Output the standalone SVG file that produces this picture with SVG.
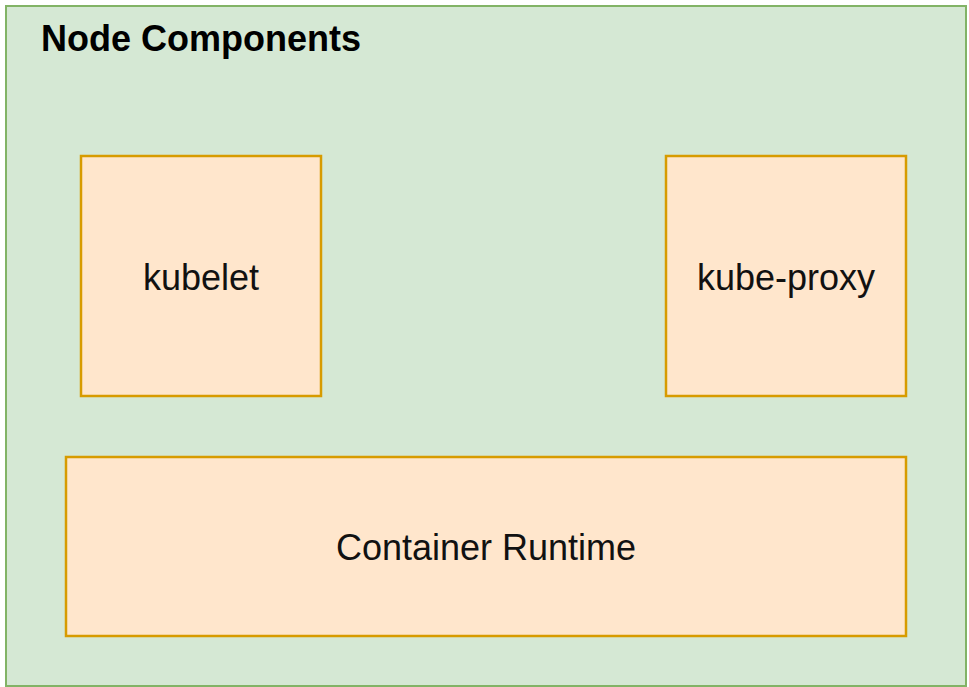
<svg xmlns="http://www.w3.org/2000/svg" width="969" height="687" viewBox="0 0 969 687">
  <style>
    .frame { fill: #d5e8d4; stroke: #82b366; stroke-width: 2; }
    .comp { fill: #ffe6cc; stroke: #d79b00; stroke-width: 2.5; }
    .title { font-family: "Liberation Sans", Arial, sans-serif; font-size: 36px; font-weight: bold; fill: #000000; }
    .label { font-family: "Liberation Sans", Arial, sans-serif; font-size: 36px; fill: #111111; text-anchor: middle; }
  </style>
  <rect width="969" height="687" fill="#ffffff"/>

  <!-- outer container -->
  <g id="node-components">
    <rect class="frame" x="6" y="6" width="960" height="680"/>
    <text class="title" x="41" y="51">Node Components</text>
  </g>

  <g id="kubelet">
    <rect class="comp" x="81" y="156" width="240" height="240"/>
    <text class="label" x="201" y="290">kubelet</text>
  </g>

  <g id="kube-proxy">
    <rect class="comp" x="666" y="156" width="240" height="240"/>
    <text class="label" x="786" y="290">kube-proxy</text>
  </g>

  <g id="container-runtime">
    <rect class="comp" x="66" y="457" width="840" height="179"/>
    <text class="label" x="486" y="560">Container Runtime</text>
  </g>

  <!-- no connectors in this diagram -->
  <g id="connectors"/>
</svg>
